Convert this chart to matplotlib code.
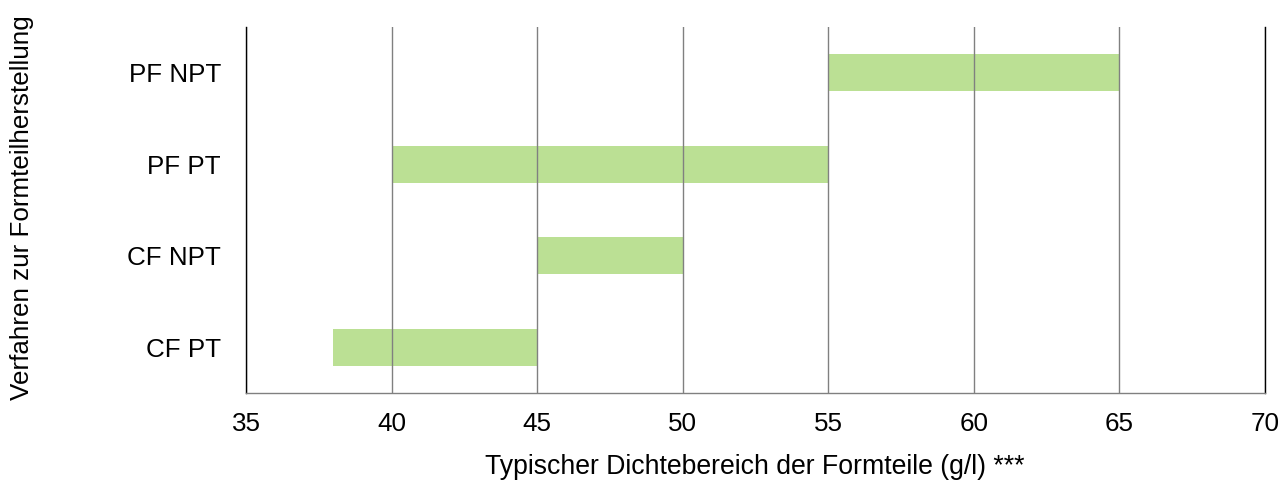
import matplotlib
matplotlib.use("Agg")
import matplotlib.pyplot as plt

categories = ["CF PT", "CF NPT", "PF PT", "PF NPT"]
range_start = [38, 45, 40, 55]
range_end = [45, 50, 55, 65]
x_ticks = [35, 40, 45, 50, 55, 60, 65, 70]

plt.rcParams['font.family'] = ['Liberation Sans', 'DejaVu Sans']

fig = plt.figure(figsize=(12.8, 4.94), dpi=100)
ax = fig.add_axes([0.1922, 0.2045, 0.9883 - 0.1922, 0.9453 - 0.2045])

widths = [e - s for s, e in zip(range_start, range_end)]
ax.barh(range(len(categories)), widths, left=range_start, height=0.4,
        color="#bbe094", edgecolor="none", zorder=1)

ax.set_xlim(35, 70)
ax.set_ylim(-0.5, len(categories) - 0.5)
ax.set_xticks(x_ticks)
ax.set_yticks(range(len(categories)))
ax.set_yticklabels(categories)

ax.grid(axis="x", color="#808080", linewidth=1.0)
ax.set_axisbelow(False)
ax.grid(axis="y", visible=False)

ax.tick_params(axis="both", length=0, labelsize=18.7, colors="black")
ax.tick_params(axis="y", pad=18)
ax.tick_params(axis="x", pad=14)

ax.spines["top"].set_visible(False)
ax.spines["left"].set_color("black")
ax.spines["right"].set_color("black")
ax.spines["bottom"].set_color("#808080")
for s in ["left", "right", "bottom"]:
    ax.spines[s].set_linewidth(1.0)
    ax.spines[s].set_zorder(4)

fig.text(755 / 1280, 1 - 467 / 494, "Typischer Dichtebereich der Formteile (g/l) ***",
         ha="center", va="center", fontsize=19.2)
fig.text(22 / 1280, 1 - 208 / 494, "Verfahren zur Formteilherstellung",
         ha="center", va="center", rotation=90, fontsize=18.7)

fig.savefig("out.png", dpi=100)
